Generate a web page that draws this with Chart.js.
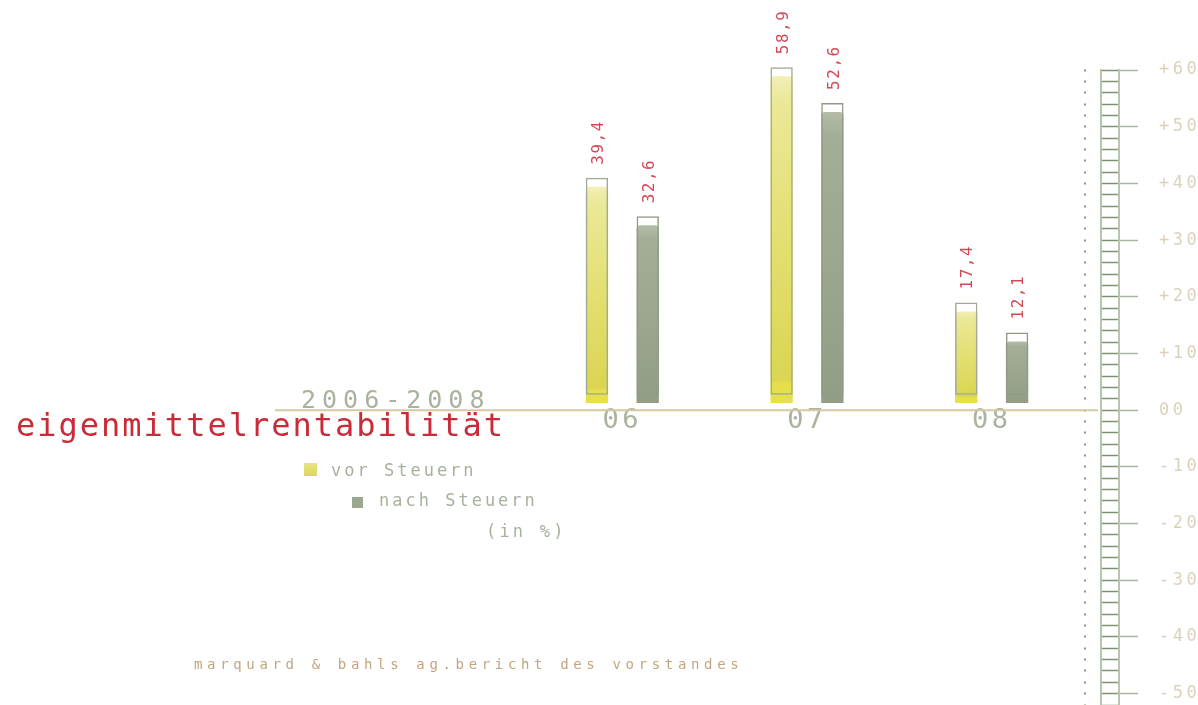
<!DOCTYPE html>
<html><head><meta charset="utf-8">
<script src="https://cdn.jsdelivr.net/npm/chart.js@4"></script>
<style>
html,body{margin:0;padding:0;background:#fff;}
#wrap{position:relative;width:1198px;height:705px;overflow:hidden;background:#fff;}
#wrap canvas{position:absolute;left:0;top:0;}
.t{position:absolute;white-space:nowrap;font-family:'DejaVu Sans Mono',monospace;line-height:1;pointer-events:none;}
#period{left:301px;top:387px;font-size:25px;letter-spacing:6px;color:#a9b29e;}
#title{left:16px;top:409px;font-size:32px;letter-spacing:2px;color:#c92c38;}
#lg1{left:331px;top:462px;font-size:17px;letter-spacing:3px;color:#a8b19e;}
#lg2{left:379px;top:492px;font-size:17px;letter-spacing:3px;color:#a8b19e;}
#lg3{left:486px;top:523px;font-size:17px;letter-spacing:3.2px;color:#a8b19e;}
#foot{left:194px;top:657px;font-size:14px;letter-spacing:4.65px;color:#c4a47f;}
.sw{position:absolute;}
#sw1{left:304px;top:463px;width:13px;height:13px;background:linear-gradient(#e6e384,#dcd75a);}
#sw2{left:352px;top:497px;width:11px;height:11px;background:#9ca78f;}
</style></head><body>
<div id="wrap">
<canvas id="c"></canvas>
<div class="t" id="period">2006-2008</div>
<div class="t" id="title">eigenmittelrentabilität</div>
<div class="sw" id="sw1"></div>
<div class="t" id="lg1">vor Steuern</div>
<div class="sw" id="sw2"></div>
<div class="t" id="lg2">nach Steuern</div>
<div class="t" id="lg3">(in %)</div>
<div class="t" id="foot">marquard &amp; bahls ag.bericht des vorstandes</div>
</div>
<script>
// ---- data ----
const categories = ['06', '07', '08'];
const vorSteuern = [39.4, 58.9, 17.4];
const nachSteuern = [32.6, 52.6, 12.1];
const seriesNames = ['vor Steuern', 'nach Steuern'];
const yTickValues = [60, 50, 40, 30, 20, 10, 0, -10, -20, -30, -40, -50];
const yMin = -52, yMax = 60;

function tickLabel(v) {
  if (v === 0) return '00';
  return (v > 0 ? '+' : '-') + Math.abs(v);
}
function fmtValue(v) { return v.toFixed(1).replace('.', ','); }

// visual style of the tube-like bars (fill + glass outline), derived from the values
const FILL_BASE = 1.25, BOX_BASE = 2.7, BOX_HEAD = 1.6;
const fillRange = vals => vals.map(v => [FILL_BASE, v]);
const boxRange = vals => vals.map(v => [BOX_BASE, v + BOX_HEAD]);

function barGradient(stops) {
  return function (c) {
    const chart = c.chart;
    if (!chart.chartArea || !c.raw || !chart.scales.y) return stops[Math.floor(stops.length / 2)][1];
    const y = chart.scales.y;
    const top = y.getPixelForValue(c.raw[1]);
    const bot = y.getPixelForValue(c.raw[0]);
    const g = chart.ctx.createLinearGradient(0, top, 0, bot);
    stops.forEach(s => g.addColorStop(s[0], s[1]));
    return g;
  };
}
const vorStops = [[0, '#f1efb6'], [0.08, '#ebe897'], [0.5, '#e3df71'], [0.93, '#dbd553'], [0.94, '#e5df4c'], [1, '#e6e050']];
const nachStops = [[0, '#b4bca8'], [0.08, '#a4ae97'], [0.55, '#9ca68e'], [1, '#929d85']];

const valueLabels = {
  id: 'valueLabels',
  afterDatasetsDraw(chart) {
    const ctx = chart.ctx;
    ctx.save();
    ctx.font = '16px "DejaVu Sans Mono"';
    ctx.fillStyle = '#d24a57';
    ctx.letterSpacing = '1.5px';
    ctx.textAlign = 'left';
    ctx.textBaseline = 'middle';
    [[0, vorSteuern], [1, nachSteuern]].forEach(([di, vals]) => {
      const meta = chart.getDatasetMeta(di);
      meta.data.forEach((bar, i) => {
        ctx.save();
        ctx.translate(bar.x + 2, bar.y - 13);
        ctx.rotate(-Math.PI / 2);
        ctx.fillText(fmtValue(vals[i]), 0, 0);
        ctx.restore();
      });
    });
    ctx.restore();
  }
};

const baseline = {
  id: 'baseline',
  beforeDraw(chart) {
    chart.ctx.letterSpacing = '3.5px';
  },
  beforeDatasetsDraw(chart) {
    const ctx = chart.ctx;
    const y0 = chart.scales.y.getPixelForValue(0);
    ctx.save();
    ctx.strokeStyle = '#d6c9a2';
    ctx.lineWidth = 2;
    ctx.beginPath();
    ctx.moveTo(275, y0);
    ctx.lineTo(chart.chartArea.right + 14, y0);
    ctx.stroke();
    ctx.restore();
  }
};

const noPad = s => { s.paddingTop = 0; s.paddingBottom = 0; };

new Chart(document.getElementById('c'), {
  type: 'bar',
  data: {
    labels: categories,
    datasets: [
      { label: seriesNames[0] + ' box', data: boxRange(vorSteuern), stack: 'vor', order: 0, clip: false,
        backgroundColor: 'rgba(255,255,255,0)', borderColor: '#9fab93', borderWidth: 1.5, borderSkipped: false },
      { label: seriesNames[1] + ' box', data: boxRange(nachSteuern), stack: 'nach', order: 0, clip: false,
        backgroundColor: 'rgba(255,255,255,0)', borderColor: '#8f9b83', borderWidth: 1.5, borderSkipped: false },
      { label: seriesNames[0], data: fillRange(vorSteuern), stack: 'vor', order: 1, clip: false,
        backgroundColor: barGradient(vorStops), borderWidth: 0, borderRadius: 4, borderSkipped: 'start' },
      { label: seriesNames[1], data: fillRange(nachSteuern), stack: 'nach', order: 1, clip: false,
        backgroundColor: barGradient(nachStops), borderWidth: 0, borderRadius: 4, borderSkipped: 'start' }
    ]
  },
  options: {
    responsive: true,
    maintainAspectRatio: false,
    animation: false,
    categoryPercentage: 0.55,
    barPercentage: 0.44,
    layout: { padding: { left: 530, top: 70, right: 0, bottom: 0 } },
    plugins: { legend: { display: false }, tooltip: { enabled: false }, title: { display: false } },
    scales: {
      x: {
        type: 'category', position: { y: 0 }, offset: true,
        grid: { display: false, drawTicks: false },
        border: { display: false },
        ticks: { color: '#a9b39f', padding: -5, font: { family: 'DejaVu Sans Mono', size: 27 }, maxRotation: 0 }
      },
      y3: {
        position: 'right', weight: 0, min: yMin, max: yMax, stacked: false,
        afterFit: s => { s.width = 17; noPad(s); },
        ticks: { display: false, stepSize: 2 },
        grid: { drawOnChartArea: false, drawTicks: true, tickLength: 2, tickWidth: 2, tickColor: '#8a987d' },
        border: { display: false }
      },
      y2: {
        position: 'right', weight: 1, min: yMin, max: yMax, stacked: false,
        afterFit: s => { s.width = 18; noPad(s); },
        ticks: { display: false, stepSize: 2 },
        grid: { drawOnChartArea: false, drawTicks: true, tickLength: 18, tickWidth: 1.5, tickColor: '#7d9370' },
        border: { display: true, color: '#b9c6af', width: 2 }
      },
      y: {
        position: 'right', weight: 2, min: yMin, max: yMax, stacked: false,
        afterFit: s => { s.width = 79; noPad(s); },
        afterBuildTicks: s => { s.ticks = yTickValues.map(v => ({ value: v })); },
        ticks: { stepSize: 10, padding: 21, color: '#dbd2bd', font: { family: 'DejaVu Sans Mono', size: 17 }, callback: v => tickLabel(v) },
        grid: { drawOnChartArea: false, drawTicks: true, tickLength: 19, tickWidth: 1.5, tickColor: '#a9b79e' },
        border: { display: true, color: '#b9c6af', width: 2 }
      }
    }
  },
  plugins: [baseline, valueLabels]
});
</script>
</body></html>
